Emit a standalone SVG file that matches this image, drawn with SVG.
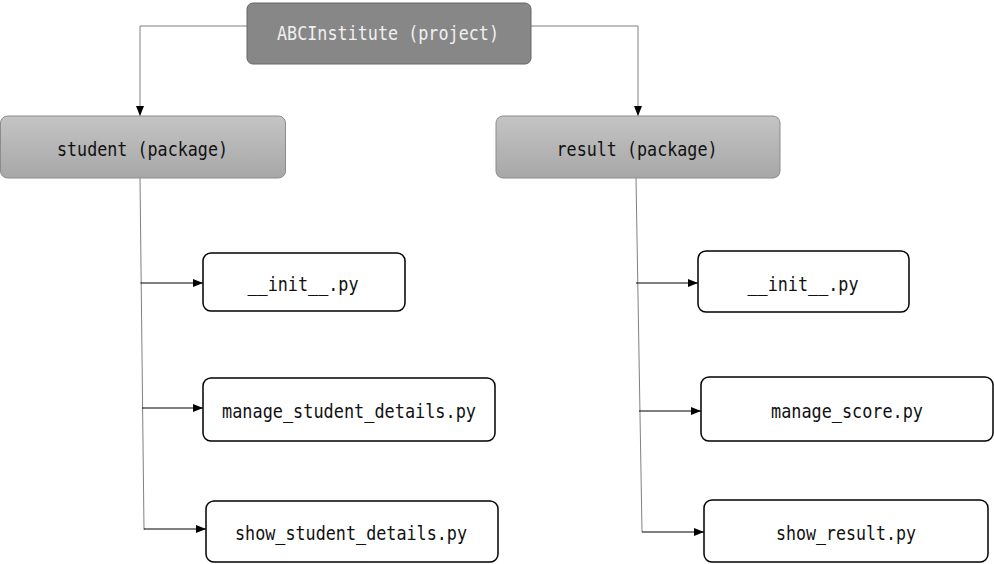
<svg xmlns="http://www.w3.org/2000/svg" width="994" height="564" viewBox="0 0 994 564">
<style>
.t{font-family:"DejaVu Sans Mono","Liberation Mono",monospace;font-size:20px;text-anchor:middle;fill:#111}
.tw{fill:#f0f0f0}
.file{fill:#ffffff;stroke:#000;stroke-width:1.5}
.pkg{fill:url(#g);stroke:#8c8c8c;stroke-width:1}
.root{fill:#878787;stroke:#666;stroke-width:1}
.c{fill:none;stroke:#000;stroke-width:1}
.cg{fill:none;stroke:#808080;stroke-width:1}
</style>
<defs>
<linearGradient id="g" x1="0" y1="0" x2="0" y2="1">
<stop offset="0" stop-color="#c4c4c4"/>
<stop offset="1" stop-color="#a7a7a7"/>
</linearGradient>
<marker id="a" markerUnits="userSpaceOnUse" markerWidth="10" markerHeight="8" refX="10" refY="4" orient="auto">
<path d="M0,0 L10,4 L0,8 z" fill="#000"/>
</marker>
</defs>
<rect width="994" height="564" fill="#fff"/>
<g id="connectors">
<path class="cg" d="M247,26 H140 V116" marker-end="url(#a)"/>
<path class="cg" d="M531,26 H638 V116" marker-end="url(#a)"/>
<path class="cg" d="M140,178 L144,530"/>
<path class="c" d="M140.5,283 H203" marker-end="url(#a)"/>
<path class="c" d="M142,408 H203" marker-end="url(#a)"/>
<path class="c" d="M144,529 H206" marker-end="url(#a)"/>
<path class="cg" d="M636,178 L642,532"/>
<path class="c" d="M636,283 H698" marker-end="url(#a)"/>
<path class="c" d="M639,411 H701" marker-end="url(#a)"/>
<path class="c" d="M642,532 H704" marker-end="url(#a)"/>
</g>
<g id="root">
<rect class="root" x="247" y="3" width="284" height="61" rx="6"/>
<text class="t tw" x="388" y="40" textLength="222" lengthAdjust="spacingAndGlyphs">ABCInstitute (project)</text>
</g>
<g id="student">
<rect class="pkg" x="0.5" y="116" width="285" height="62" rx="7"/>
<text class="t" x="142.5" y="155.5" textLength="171" lengthAdjust="spacingAndGlyphs">student (package)</text>
</g>
<g id="result">
<rect class="pkg" x="496" y="116" width="284" height="62" rx="7"/>
<text class="t" x="637" y="155.5" textLength="161" lengthAdjust="spacingAndGlyphs">result (package)</text>
</g>
<g id="student_init">
<rect class="file" x="203" y="253" width="202" height="58" rx="8"/>
<text class="t" x="303" y="290.5" textLength="111" lengthAdjust="spacingAndGlyphs">__init__.py</text>
</g>
<g id="manage_student_details">
<rect class="file" x="203" y="378" width="292" height="63" rx="8"/>
<text class="t" x="349" y="418" textLength="254" lengthAdjust="spacingAndGlyphs">manage_student_details.py</text>
</g>
<g id="show_student_details">
<rect class="file" x="206" y="501" width="292" height="61" rx="8"/>
<text class="t" x="351" y="539.5" textLength="232" lengthAdjust="spacingAndGlyphs">show_student_details.py</text>
</g>
<g id="result_init">
<rect class="file" x="698" y="251" width="211" height="61" rx="8"/>
<text class="t" x="803" y="290.5" textLength="111" lengthAdjust="spacingAndGlyphs">__init__.py</text>
</g>
<g id="manage_score">
<rect class="file" x="701" y="377" width="292" height="64" rx="8"/>
<text class="t" x="847" y="418" textLength="152" lengthAdjust="spacingAndGlyphs">manage_score.py</text>
</g>
<g id="show_result">
<rect class="file" x="704" y="500" width="284" height="62" rx="8"/>
<text class="t" x="846" y="539.5" textLength="140" lengthAdjust="spacingAndGlyphs">show_result.py</text>
</g>
</svg>
